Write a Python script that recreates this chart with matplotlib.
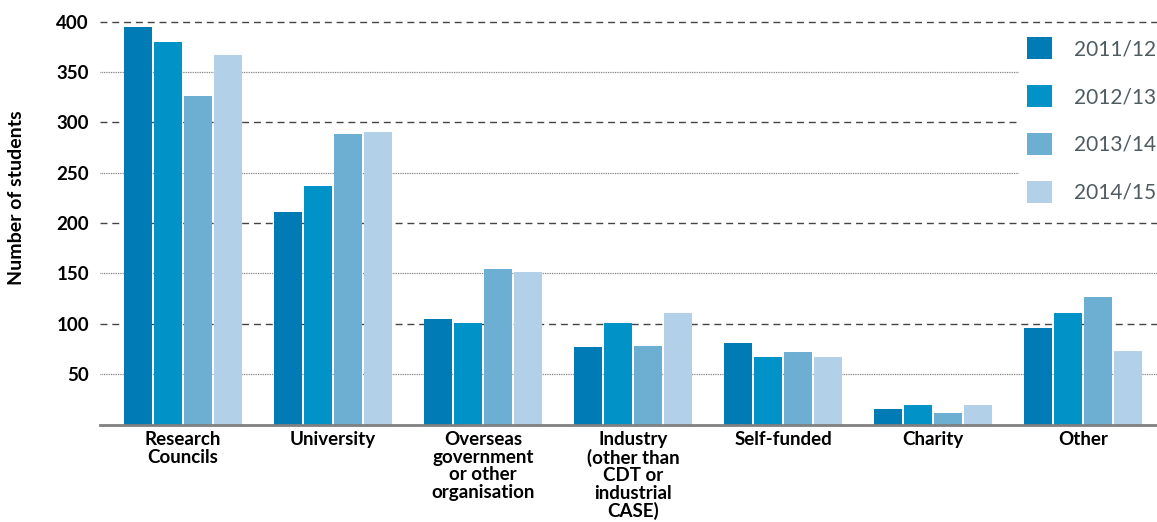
import numpy as np
import matplotlib
matplotlib.use('Agg')
import matplotlib.pyplot as plt

plt.rcParams['font.family'] = ['Lato', 'DejaVu Sans']

categories = ['Research\nCouncils', 'University', 'Overseas\ngovernment\nor other\norganisation',
              'Industry\n(other than\nCDT or\nindustrial\nCASE)', 'Self-funded', 'Charity', 'Other']
years = ['2011/12', '2012/13', '2013/14', '2014/15']
v_2011 = [395, 211, 105, 77, 81, 15, 96]
v_2012 = [380, 237, 101, 101, 67, 19, 111]
v_2013 = [326, 288, 154, 78, 72, 11, 127]
v_2014 = [367, 290, 151, 111, 67, 19, 73]
colors = ['#007bb5', '#0192c7', '#6daed3', '#b2d0e7']

fig = plt.figure(figsize=(11.57, 5.22), dpi=100)
ax = fig.add_axes([100 / 1157, 97.5 / 522, 1 - 100 / 1157, 423 / 522])

x = np.arange(len(categories))
w = 0.2
for i, (vals, lab) in enumerate(zip([v_2011, v_2012, v_2013, v_2014], years)):
    ax.bar(x + (i - 1.5) * w, vals, width=w * 28 / 30, color=colors[i], label=lab, zorder=3)

# grid: dashed on the hundreds, dotted on the fifties
for y in [100, 200, 300, 400]:
    ax.axhline(y, color='#444444', lw=1.0, ls=(0, (5, 3.5)), zorder=1)
for y in [50, 150, 250, 350]:
    ax.axhline(y, color='#777777', lw=0.9, ls=(0, (0.7, 0.7)), zorder=1)

ax.set_xlim(-0.553, 6.493)
ax.set_ylim(0, 420)
ax.set_yticks([50, 100, 150, 200, 250, 300, 350, 400])
ax.set_xticks(x)
ax.set_xticklabels(categories, fontsize=13.5, fontweight='bold', linespacing=1.03)
ax.tick_params(axis='y', labelsize=13.5, length=0, pad=8)
ax.tick_params(axis='x', length=0, pad=5)
for t in ax.get_yticklabels():
    t.set_fontweight('bold')
for s in ['top', 'right', 'left']:
    ax.spines[s].set_visible(False)
ax.spines['bottom'].set_color('#808080')
ax.spines['bottom'].set_linewidth(2)
ax.spines['bottom'].set_zorder(4)

fig.text(17 / 1157, 1 - 198 / 522, 'Number of students', rotation=90, fontsize=14,
         fontweight='bold', ha='center', va='center')

leg = ax.legend(loc='upper left', bbox_to_anchor=(1018.7 / 1157, 1 - 29 / 522),
                bbox_transform=fig.transFigure, fontsize=15, frameon=True,
                handlelength=1.2, handleheight=1.2, handletextpad=1.05,
                labelspacing=1.26, borderpad=0.4, borderaxespad=0)
leg.get_frame().set_facecolor('white')
leg.get_frame().set_edgecolor('none')
leg.get_frame().set_alpha(1)
for t in leg.get_texts():
    t.set_color('#4e5c62')

fig.savefig('out.png', dpi=100)
